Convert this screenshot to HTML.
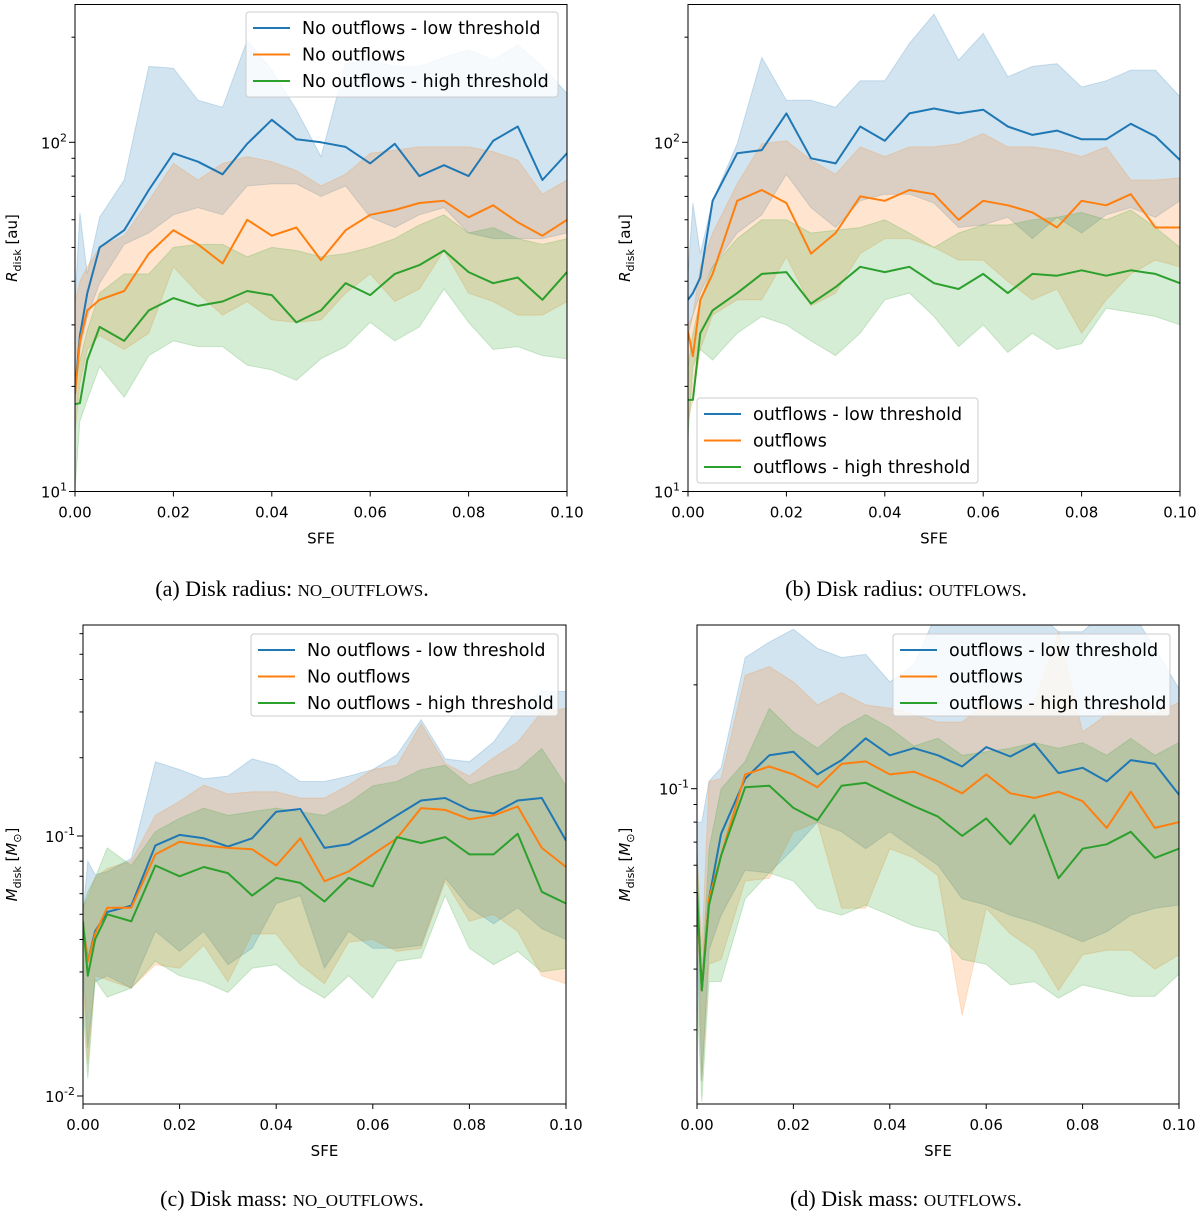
<!DOCTYPE html>
<html><head><meta charset="utf-8">
<style>
body{margin:0;background:#fff;}
svg{display:block;font-family:"DejaVu Sans","Liberation Sans",sans-serif;}
.cap{font-family:"Liberation Serif",serif;font-size:22px;}
.sc{font-size:17px;}
</style></head>
<body>
<svg id="fig" width="1200" height="1215" viewBox="0 0 1200 1215" xmlns="http://www.w3.org/2000/svg">
<text class="cap" x="292" y="596" text-anchor="middle">(a) Disk radius: <tspan class="sc">NO_OUTFLOWS</tspan>.</text>
<text class="cap" x="906" y="596" text-anchor="middle">(b) Disk radius: <tspan class="sc">OUTFLOWS</tspan>.</text>
<text class="cap" x="292" y="1206" text-anchor="middle">(c) Disk mass: <tspan class="sc">NO_OUTFLOWS</tspan>.</text>
<text class="cap" x="906" y="1206" text-anchor="middle">(d) Disk mass: <tspan class="sc">OUTFLOWS</tspan>.</text>
</svg>
<script>
const sfe = [0,0.001,0.0025,0.005,0.01,0.015,0.02,0.025,0.03,0.035,0.04,0.045,0.05,0.055,0.06,0.065,0.07,0.075,0.08,0.085,0.09,0.095,0.1];
const xTicks = [0,0.02,0.04,0.06,0.08,0.1];
const xTickLabels = ["0.00","0.02","0.04","0.06","0.08","0.10"];
const legendA = ["No outflows - low threshold","No outflows","No outflows - high threshold"];
const legendB = ["outflows - low threshold","outflows","outflows - high threshold"];

// Panel a: disk radius, no outflows
const aBlue   = [19.4,28,37,50,56,73,93,88,81,99,116,102,100,97,87,99,80,86,80,101,111,78,93];
const aBlueHi = [35,63,42,61,78,165,163,132,126,196,161,124,91,168,172,165,165,175,184,172,190,165,138];
const aBlueLo = [18.3,25.5,31.7,39.5,51,55,62,65,62,75,76,76,70,75,61,57,62,65,55,53,53,53,55];
const aOrange   = [19,27,33,35.4,37.5,48,56,51,45,60,54,57,46,56,62,64,67,68,61,66,59,54,60];
const aOrangeHi = [35,40,44,50,54,68,87,78,87,91,88,83,75,81,93,95,97,97,97,94,89,71,78];
const aOrangeLo = [14.7,20.4,25.5,28,25.5,28.4,44,37,32,35,31,30.5,31,37,42,35,38,49,37,35,32,32,35];
const aGreen   = [17.8,17.9,23.8,29.6,27,33,35.8,34,35,37.5,36.5,30.5,33,39.5,36.5,42,44.5,49,42.5,39.5,41,35.4,42.5];
const aGreenHi = [20.4,23.8,29,37,42,42,50,51,51,47,50,49,47,48,50,53,58,62,55,57,53,51,53];
const aGreenLo = [10.1,15.9,18.3,22.8,18.6,24.5,27,26,26,23,22.3,20.8,24,26,30.5,27,29.6,38,30.5,25.5,26,24.5,24];

// Panel b: disk radius, outflows
const bBlue   = [35.4,37,41,68,93,95,121,90,87,111,101,121,125,121,124,111,105,108,102,102,113,104,89];
const bBlueHi = [42,67,48,68,99,175,132,132,126,150,150,192,233,172,205,154,165,168,144,150,161,161,135];
const bBlueLo = [28,32,37,44,55,62,81,65,57,68,71,71,67,57,58,61,53,61,55,62,65,61,68];
const bOrange   = [28.7,24.4,35.4,42,68,73,67,48,55,70,68,73,71,60,68,66,63,57,68,66,71,57,57];
const bOrangeHi = [30,32,44,55,76,99,101,89,81,97,91,97,97,99,106,97,97,95,91,97,78,78,79];
const bOrangeLo = [16,18.3,25.5,32,35.4,35.4,47,34,37,48,53,53,50,46,46,40,35.4,38,28.4,35.4,42,46,44];
const bGreen   = [18.3,18.3,28.4,33,37,42,42.5,34.5,38.5,44,42.5,44,39.5,38,42,37,42,41.5,43,41.5,43,42,39.5];
const bGreenHi = [22.8,28.4,35.4,44,53,60,60,55,56,57,60,55,50,55,58,58,60,61,63,60,64,57,50];
const bGreenLo = [14.1,22.8,25.5,23.8,28.4,31.7,30,27,24.5,28.4,35.4,37,31.7,26,30,25,28.4,25.5,26.5,33.5,32.6,31.7,30];

// Panel c: disk mass, no outflows
const cBlue   = [0.0455,0.033,0.043,0.051,0.054,0.092,0.101,0.098,0.091,0.098,0.124,0.127,0.09,0.093,0.105,0.12,0.137,0.14,0.126,0.122,0.137,0.14,0.096];
const cBlueHi = [0.05,0.08,0.071,0.073,0.082,0.193,0.18,0.166,0.17,0.198,0.187,0.162,0.162,0.17,0.18,0.205,0.28,0.198,0.193,0.23,0.31,0.36,0.36];
const cBlueLo = [0.032,0.0153,0.0275,0.029,0.026,0.043,0.036,0.043,0.032,0.037,0.055,0.059,0.031,0.043,0.037,0.037,0.038,0.069,0.053,0.046,0.053,0.044,0.04];
const cOrange   = [0.0455,0.033,0.042,0.053,0.053,0.085,0.095,0.092,0.09,0.089,0.077,0.098,0.067,0.073,0.085,0.098,0.128,0.126,0.116,0.12,0.13,0.09,0.076];
const cOrangeHi = [0.053,0.058,0.069,0.075,0.08,0.12,0.136,0.157,0.145,0.148,0.148,0.14,0.14,0.157,0.18,0.187,0.27,0.19,0.17,0.2,0.23,0.3,0.31];
const cOrangeLo = [0.0275,0.0132,0.029,0.028,0.026,0.032,0.031,0.038,0.0275,0.042,0.042,0.032,0.027,0.039,0.04,0.036,0.037,0.067,0.047,0.05,0.043,0.029,0.027];
const cGreen   = [0.047,0.029,0.04,0.05,0.047,0.077,0.07,0.076,0.072,0.059,0.069,0.066,0.056,0.069,0.064,0.099,0.094,0.099,0.085,0.085,0.102,0.061,0.055];
const cGreenHi = [0.053,0.061,0.069,0.09,0.077,0.104,0.117,0.128,0.12,0.124,0.128,0.124,0.12,0.134,0.156,0.162,0.18,0.187,0.157,0.17,0.18,0.217,0.156];
const cGreenLo = [0.022,0.0117,0.028,0.024,0.026,0.033,0.029,0.0275,0.025,0.031,0.032,0.027,0.0238,0.029,0.0238,0.033,0.034,0.059,0.037,0.032,0.036,0.03,0.031];

// Panel d: disk mass, outflows
const dBlue   = [0.048,0.026,0.048,0.074,0.107,0.125,0.128,0.11,0.121,0.14,0.125,0.131,0.125,0.116,0.132,0.124,0.135,0.111,0.115,0.105,0.121,0.118,0.096];
const dBlueHi = [0.08,0.08,0.105,0.115,0.24,0.266,0.29,0.255,0.24,0.245,0.204,0.228,0.33,0.33,0.33,0.33,0.33,0.285,0.285,0.33,0.33,0.255,0.195];
const dBlueLo = [0.034,0.0142,0.034,0.043,0.058,0.057,0.067,0.08,0.075,0.067,0.075,0.067,0.06,0.048,0.046,0.043,0.041,0.0385,0.036,0.0385,0.043,0.045,0.046];
const dOrange   = [0.048,0.026,0.048,0.064,0.11,0.116,0.11,0.101,0.118,0.12,0.11,0.112,0.105,0.097,0.11,0.097,0.094,0.098,0.092,0.077,0.098,0.077,0.08];
const dOrangeHi = [0.067,0.034,0.105,0.107,0.213,0.226,0.204,0.175,0.19,0.175,0.171,0.164,0.156,0.156,0.178,0.167,0.178,0.285,0.146,0.164,0.171,0.164,0.178];
const dOrangeLo = [0.054,0.0142,0.031,0.032,0.054,0.055,0.075,0.08,0.045,0.045,0.067,0.063,0.056,0.022,0.045,0.038,0.034,0.026,0.033,0.034,0.034,0.03,0.033];
const dGreen   = [0.0503,0.026,0.046,0.064,0.101,0.102,0.088,0.081,0.102,0.104,0.096,0.089,0.083,0.073,0.082,0.069,0.084,0.055,0.067,0.069,0.075,0.063,0.067];
const dGreenHi = [0.067,0.028,0.067,0.1,0.12,0.171,0.146,0.131,0.15,0.164,0.15,0.133,0.14,0.125,0.128,0.131,0.136,0.131,0.136,0.125,0.14,0.125,0.136];
const dGreenLo = [0.0247,0.0124,0.0276,0.0276,0.048,0.057,0.054,0.045,0.043,0.046,0.043,0.04,0.0385,0.032,0.031,0.027,0.0276,0.0247,0.027,0.026,0.025,0.025,0.029];

const COLORS = ["#1f77b4","#ff7f0e","#2ca02c"];
const NS = "http://www.w3.org/2000/svg";
const fig = document.getElementById('fig');
function mk(tag, attrs, parent){
  const e = document.createElementNS(NS, tag);
  for (const k in attrs) e.setAttribute(k, attrs[k]);
  (parent||fig).appendChild(e);
  return e;
}

function drawPanel(p){
  const g = mk('g', {});
  
  
  const L=p.l, R=p.r, T=p.t, B=p.b;
  const lmin=Math.log10(p.ymin), lmax=Math.log10(p.ymax);
  const sx = v => L + (v-0)/(0.1-0)*(R-L);
  const sy = v => B - (Math.log10(v)-lmin)/(lmax-lmin)*(B-T);
  const cid = p.name+'-clip';
  const defs = mk('defs', {}, g);
  const cp = mk('clipPath', {id:cid}, defs);
  mk('rect', {x:L, y:T, width:R-L, height:B-T}, cp);
  const plot = mk('g', {'clip-path':'url(#'+cid+')'}, g);
  p.series.forEach((s,i)=>{
    let d='';
    sfe.forEach((x,j)=>{ d += (j?'L':'M')+sx(x).toFixed(1)+','+sy(s.hi[j]).toFixed(1); });
    for (let j=sfe.length-1;j>=0;j--) d += 'L'+sx(sfe[j]).toFixed(1)+','+sy(s.lo[j]).toFixed(1);
    const band = mk('path', {d:d+'Z', fill:COLORS[i], 'fill-opacity':0.2, stroke:COLORS[i], 'stroke-opacity':0.2, 'stroke-width':1}, plot);
    
    
  });
  p.series.forEach((s,i)=>{
    const pts = sfe.map((x,j)=>sx(x).toFixed(1)+','+sy(s.mid[j]).toFixed(1)).join(' ');
    const ln = mk('polyline', {points:pts, fill:'none', stroke:COLORS[i], 'stroke-width':2, 'stroke-linejoin':'round'}, plot);
    
    
  });
  const fr = mk('rect', {x:L, y:T, width:R-L, height:B-T, fill:'none', stroke:'#000', 'stroke-width':1}, g);
  
  
  xTicks.forEach((t,k)=>{
    const x=sx(t);
    mk('line', {x1:x, x2:x, y1:B, y2:B+5, stroke:'#000', 'stroke-width':1}, g);
    const tl = mk('text', {x:x, y:B+26, 'text-anchor':'middle', 'font-size':15, fill:'#000'}, g);
    tl.textContent = xTickLabels[k];
    
    
  });
  const xl = mk('text', {x:(L+R)/2, y:B+52, 'text-anchor':'middle', 'font-size':15}, g);
  xl.textContent = 'SFE';
  
  
  for (let e=Math.floor(lmin); e<=Math.ceil(lmax); e++){
    for (let m=1;m<10;m++){
      const v=m*Math.pow(10,e);
      if (v<p.ymin*0.999 || v>p.ymax*1.001) continue;
      const y=sy(v);
      mk('line', {x1:L-(m===1?6:3.5), x2:L, y1:y, y2:y, stroke:'#000', 'stroke-width':1}, g);
      if (m===1){
        const tl = mk('text', {x:L-8, y:y+6, 'text-anchor':'end', 'font-size':15}, g);
        
        
        const t1 = mk('tspan', {}, tl); t1.textContent='10';
        const t2 = mk('tspan', {dy:-7, 'font-size':11}, tl); t2.textContent=String(e);
      }
    }
  }
  const cy=(T+B)/2, lx=p.ylx;
  const yl = mk('text', {transform:'translate('+lx+','+cy+') rotate(-90)', 'text-anchor':'middle', 'font-size':15}, g);
  
  
  const a = mk('tspan', {'font-style':'italic'}, yl); a.textContent = p.ysym;
  const b = mk('tspan', {'font-size':11, dy:4}, yl); b.textContent='disk';
  const c = mk('tspan', {dy:-4}, yl); c.textContent=' [';
  if (p.ysym==='M'){
    const c1 = mk('tspan', {'font-style':'italic'}, yl); c1.textContent='M';
    const c2 = mk('tspan', {'font-size':11, dy:4}, yl); c2.textContent='\u2299';
    const c3 = mk('tspan', {dy:-4}, yl); c3.textContent=']';
  } else {
    const c3 = mk('tspan', {}, yl); c3.textContent='au]';
  }
  const lg = p.leg;
  const lgG = mk('g', {}, g);
  
  
  mk('rect', {x:lg.x, y:lg.y, width:lg.w, height:lg.h, rx:3, fill:'#fff', 'fill-opacity':0.8, stroke:'#ccc', 'stroke-width':1}, lgG);
  p.labels.forEach((t,i)=>{
    const yy = lg.y + 16 + i*26.5;
    const le = mk('g', {}, lgG);
    
    
    mk('line', {x1:lg.x+7, x2:lg.x+44, y1:yy, y2:yy, stroke:COLORS[i], 'stroke-width':2}, le);
    const tx = mk('text', {x:lg.x+56, y:yy+6, 'font-size':17.5}, le);
    tx.textContent = t;
  });
}

drawPanel({name:'panel-a-radius-no-outflows', l:75, r:567, t:4.5, b:491.5, ymin:10, ymax:Math.pow(10,2+(142.3-4.5)/349.2), ylx:17, ysym:'R', labels:legendA,
  leg:{x:246,y:12,w:312,h:85},
  series:[{key:'low-threshold',mid:aBlue,hi:aBlueHi,lo:aBlueLo},{key:'default',mid:aOrange,hi:aOrangeHi,lo:aOrangeLo},{key:'high-threshold',mid:aGreen,hi:aGreenHi,lo:aGreenLo}]});
drawPanel({name:'panel-b-radius-outflows', l:688, r:1180, t:4.5, b:491.5, ymin:10, ymax:Math.pow(10,2+(142.3-4.5)/349.2), ylx:630, ysym:'R', labels:legendB,
  leg:{x:697,y:398,w:281,h:85},
  series:[{key:'low-threshold',mid:bBlue,hi:bBlueHi,lo:bBlueLo},{key:'default',mid:bOrange,hi:bOrangeHi,lo:bOrangeLo},{key:'high-threshold',mid:bGreen,hi:bGreenHi,lo:bGreenLo}]});
drawPanel({name:'panel-c-mass-no-outflows', l:83, r:566, t:625, b:1104, ymin:Math.pow(10,-2-(1104-1096)/260), ymax:Math.pow(10,-1+(836-625)/260), ylx:17, ysym:'M', labels:legendA,
  leg:{x:251,y:634,w:307,h:82},
  series:[{key:'low-threshold',mid:cBlue,hi:cBlueHi,lo:cBlueLo},{key:'default',mid:cOrange,hi:cOrangeHi,lo:cOrangeLo},{key:'high-threshold',mid:cGreen,hi:cGreenHi,lo:cGreenLo}]});
drawPanel({name:'panel-d-mass-outflows', l:697, r:1179, t:625, b:1104, ymin:Math.pow(10,-1-(1104-788.7)/345), ymax:Math.pow(10,-1+(788.7-625)/345), ylx:630, ysym:'M', labels:legendB,
  leg:{x:893,y:634,w:277,h:82},
  series:[{key:'low-threshold',mid:dBlue,hi:dBlueHi,lo:dBlueLo},{key:'default',mid:dOrange,hi:dOrangeHi,lo:dOrangeLo},{key:'high-threshold',mid:dGreen,hi:dGreenHi,lo:dGreenLo}]});
</script>
</body></html>
